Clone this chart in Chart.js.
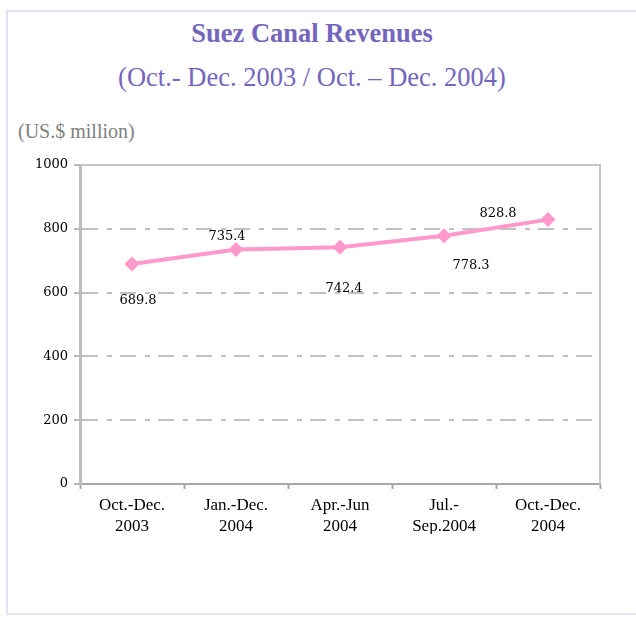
<!DOCTYPE html>
<html>
<head>
<meta charset="utf-8">
<script src="https://cdn.jsdelivr.net/npm/chart.js@4/dist/chart.umd.min.js"></script>
<style>
  html, body { margin: 0; padding: 0; background: #fff; overflow: hidden; }
  #page { position: relative; width: 636px; height: 617px; overflow: hidden; }
  #frame { position: absolute; left: 6px; top: 10px; width: 660px; height: 601px; border: 2px solid #e2e2f2; }
  .txt { position: absolute; font-family: 'Liberation Serif', serif; white-space: nowrap; }
  #title { left: 0; width: 624px; top: 18px; text-align: center; font-size: 26.5px; line-height: 30px; font-weight: bold; color: #7466bd; }
  #subtitle { left: 0; width: 624px; top: 62px; text-align: center; font-size: 26.5px; line-height: 30px; color: #7466bd; }
  #units { left: 18px; top: 119px; font-size: 20px; line-height: 24px; color: #808080; }
  #wrap { position: absolute; left: 0; top: 0; width: 636px; height: 617px; }
</style>
</head>
<body>
<div id="page">
  <div id="frame"></div>
  <div class="txt" id="title">Suez Canal Revenues</div>
  <div class="txt" id="subtitle">(Oct.- Dec. 2003 / Oct. – Dec. 2004)</div>
  <div class="txt" id="units">(US.$ million)</div>
  <div id="wrap"><canvas id="chart"></canvas></div>
</div>
<script>
const categories = [['Oct.-Dec.', '2003'], ['Jan.-Dec.', '2004'], ['Apr.-Jun', '2004'], ['Jul.-', 'Sep.2004'], ['Oct.-Dec.', '2004']];
const revenues = [689.8, 735.4, 742.4, 778.3, 828.8];
const yTicks = [0, 200, 400, 600, 800, 1000];

// where each value label sits relative to its point (as in the original)
const labelOffsets = [[6, 37], [-9, -13], [4, 41], [27, 30], [-50, -6]];

const valueLabels = {
    id: 'valueLabels',
    afterDatasetsDraw(chart) {
        const ctx = chart.ctx;
        const pts = chart.getDatasetMeta(0).data;
        ctx.save();
        ctx.font = '13px "DejaVu Serif"';
        ctx.fillStyle = '#000';
        ctx.textAlign = 'center';
        ctx.textBaseline = 'middle';
        pts.forEach((p, i) => {
            ctx.fillText(revenues[i].toFixed(1), p.x + labelOffsets[i][0], p.y + labelOffsets[i][1]);
        });
        ctx.restore();
    }
};

const plotFrame = {
    id: 'plotFrame',
    beforeDatasetsDraw(chart) {
        const a = chart.chartArea;
        const ctx = chart.ctx;
        ctx.save();
        ctx.strokeStyle = '#c6c6c6';
        ctx.lineWidth = 2;
        ctx.beginPath();
        ctx.moveTo(a.left, a.top);
        ctx.lineTo(a.right, a.top);
        ctx.lineTo(a.right, a.bottom);
        ctx.stroke();
        ctx.restore();
    }
};

const chart = document.querySelector('#chart').getContext('2d');

new Chart(chart, {
    type: 'line',
    data: {
        labels: categories,
        datasets: [{
            data: revenues,
            borderColor: '#ff99cc',
            borderWidth: 4,
            pointStyle: 'rectRot',
            pointRadius: 7.5,
            pointBackgroundColor: '#ff99cc',
            pointBorderWidth: 0,
            tension: 0
        }]
    },
    options: {
        responsive: true,
        maintainAspectRatio: false,
        animation: false,
        layout: { padding: { left: 0, top: 165, right: 36, bottom: 83 } },
        plugins: { legend: { display: false }, tooltip: { enabled: false } },
        scales: {
            x: {
                offset: true,
                afterFit(scale) { scale.height = 50; },
                grid: { offset: true, drawOnChartArea: false, tickLength: 5, tickColor: '#a8a8a8', tickWidth: 2 },
                border: { color: '#a8a8a8', width: 2 },
                ticks: { color: '#000', padding: 6, font: { family: 'Liberation Serif', size: 17, lineHeight: 1.25 } }
            },
            y: {
                min: 0,
                max: 1000,
                afterFit(scale) { scale.width = 80; },
                afterBuildTicks(scale) { scale.ticks = yTicks.map(v => ({ value: v })); },
                grid: { color: '#c0c0c0', lineWidth: 2, tickLength: 6, tickColor: '#b8b8b8', tickBorderDash: [] },
                border: { color: '#bdbdbd', width: 3, dash: [16, 9, 5, 8] },
                ticks: {
                    color: '#000',
                    padding: 6,
                    font: { family: 'DejaVu Serif', size: 13 },
                    callback: v => String(v)
                }
            }
        }
    },
    plugins: [plotFrame, valueLabels]
});
</script>
</body>
</html>
